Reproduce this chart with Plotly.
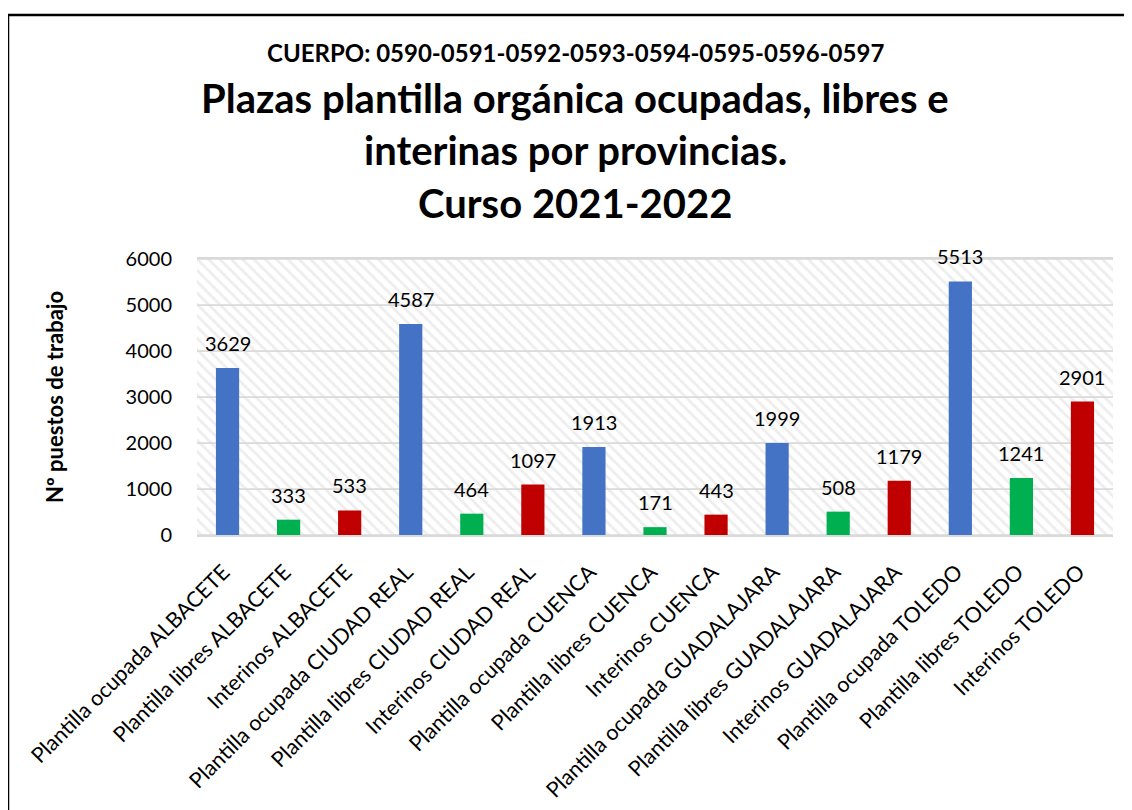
import plotly.graph_objects as go

categorias = [
    "Plantilla ocupada ALBACETE", "Plantilla libres ALBACETE", "Interinos ALBACETE",
    "Plantilla ocupada CIUDAD REAL", "Plantilla libres CIUDAD REAL", "Interinos CIUDAD REAL",
    "Plantilla ocupada CUENCA", "Plantilla libres CUENCA", "Interinos CUENCA",
    "Plantilla ocupada GUADALAJARA", "Plantilla libres GUADALAJARA", "Interinos GUADALAJARA",
    "Plantilla ocupada TOLEDO", "Plantilla libres TOLEDO", "Interinos TOLEDO",
]
valores = [3629, 333, 533, 4587, 464, 1097, 1913, 171, 443, 1999, 508, 1179, 5513, 1241, 2901]
ticks_y = [0, 1000, 2000, 3000, 4000, 5000, 6000]

subtitulo = "CUERPO: 0590-0591-0592-0593-0594-0595-0596-0597"
titulo = ["Plazas plantilla orgánica ocupadas, libres e",
          "interinas por provincias.",
          "Curso 2021-2022"]
titulo_y = "Nº puestos de trabajo"

# estilos
colores_tipo = ["#4472C4", "#00B050", "#C00000"]
colores = [colores_tipo[i % 3] for i in range(len(valores))]
FONT = "Lato"
GRID = "#d9d9d9"

# la página deja 8px de margen: se trabaja en coordenadas de pantalla
OFF = 8
PX0, PX1, PY0, PY1 = 197, 1113, 259, 535  # área de trazado en pantalla


def px(sx):
    return (sx - PX0) / (PX1 - PX0)


def py(sy):
    return (PY1 - sy) / (PY1 - PY0)


fig = go.Figure()

# fondo rayado en bandas (las aristas hacen de líneas de cuadrícula)
bandas = ticks_y[:-1]
paso = ticks_y[1] - ticks_y[0]
fig.add_trace(go.Bar(
    x=[categorias[len(categorias) // 2]] * len(bandas),
    y=[paso] * len(bandas),
    base=bandas,
    width=len(categorias) + 0.3,
    marker=dict(color="white",
                line=dict(color=GRID, width=1.5),
                pattern=dict(shape="\\", fgcolor="#dcdcdc", bgcolor="white",
                             size=8, solidity=0.35)),
    hoverinfo="skip", showlegend=False,
))

fig.add_trace(go.Bar(
    x=categorias, y=valores, width=0.38,
    marker=dict(color=colores, line=dict(width=0)),
    showlegend=False,
))

for c, v in zip(categorias, valores):
    fig.add_annotation(x=c, y=v, text=str(v), showarrow=False,
                       yanchor="bottom", yshift=11,
                       font=dict(family=FONT, size=20, color="black"))

# títulos
cx = px(575)
fig.add_annotation(xref="paper", yref="paper", x=cx, y=py(52),
                   text="<b>" + subtitulo + "</b>", showarrow=False,
                   yanchor="middle", font=dict(family=FONT, size=24, color="black"))
for txt, sy in zip(titulo, [98, 150, 203]):
    fig.add_annotation(xref="paper", yref="paper", x=cx, y=py(sy),
                       text="<b>" + txt + "</b>", showarrow=False,
                       yanchor="middle", font=dict(family=FONT, size=40, color="black"))

# marco
fig.add_shape(type="rect", xref="paper", yref="paper",
              x0=px(8), x1=px(1150), y0=py(830), y1=py(15),
              line=dict(color="black", width=2.5), fillcolor="rgba(0,0,0,0)")

fig.update_layout(
    width=1132 - OFF, height=810 - OFF,
    margin=dict(l=PX0 - OFF, r=1132 - PX1, t=PY0 - OFF, b=810 - PY1, autoexpand=False),
    barmode="overlay",
    paper_bgcolor="white", plot_bgcolor="white",
    font=dict(family=FONT, color="black"),
    xaxis=dict(range=[-0.5, len(categorias) - 0.5], tickangle=-45,
               categoryorder="array", categoryarray=categorias,
               tickfont=dict(family=FONT, size=21.5, color="black"),
               ticklabelstandoff=14, ticklabelshift=-4,
               showline=True, linecolor=GRID, linewidth=2, mirror=True,
               showgrid=False, ticks="", automargin=False),
    yaxis=dict(range=[0, 6000], tickvals=ticks_y, showgrid=False, zeroline=False,
               ticks="outside", ticklen=20, tickcolor="rgba(0,0,0,0)",
               tickfont=dict(family=FONT, size=20, color="black"), automargin=False,
               title=dict(text="<b>" + titulo_y + "</b>", standoff=55,
                          font=dict(family=FONT, size=22, color="black"))),
)

fig.write_html("out.html")
